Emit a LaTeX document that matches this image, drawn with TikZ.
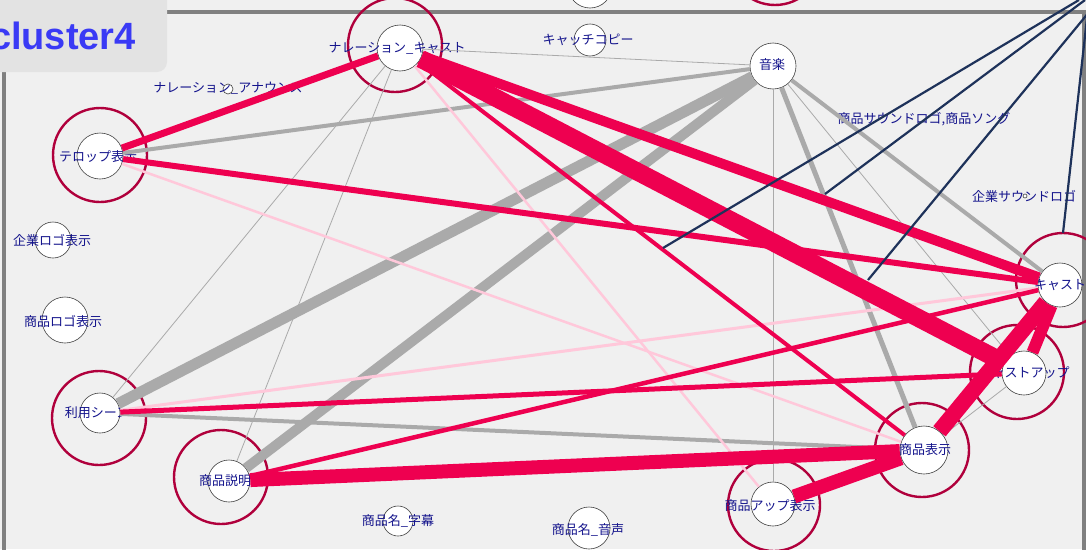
\documentclass[tikz,border=0pt]{standalone}
\usepackage{fontspec}
\newfontfamily\jp{Noto Sans CJK JP}
\newfontfamily\titlef{Liberation Sans}
\definecolor{bgc}{RGB}{240,240,240}
\definecolor{framec}{RGB}{128,128,128}
\definecolor{boxgray}{RGB}{227,227,227}
\definecolor{titlec}{RGB}{58,58,245}
\definecolor{ringred}{RGB}{176,0,60}
\definecolor{edgered}{RGB}{238,0,80}
\definecolor{edgepink}{RGB}{255,200,218}
\definecolor{edgegray}{RGB}{170,170,170}
\definecolor{navyc}{RGB}{30,50,90}
\definecolor{labblue}{RGB}{20,20,140}
\pgfdeclarelayer{back}
\pgfdeclarelayer{edges}
\pgfdeclarelayer{front}
\pgfsetlayers{back,main,edges,front}
\begin{document}
\begin{tikzpicture}[x=1pt,y=-1pt,
  circ/.style={circle, draw=black!75, fill=white, line width=0.6pt, inner sep=0pt},
  ring/.style={circle, draw=ringred, line width=2.4pt, inner sep=0pt, minimum size=94pt},
  lab/.style={text=labblue, font=\jp\fontsize{13}{14}\selectfont, inner sep=0pt},
  ge/.style={draw=edgegray},
  pe/.style={draw=edgepink},
  re/.style={draw=edgered},
  ne/.style={draw=navyc, line width=2.2pt}]
\useasboundingbox (0,0) rectangle (1086,549);
\begin{pgfonlayer}{back}
\fill[bgc] (0,0) rectangle (1086,549);
\draw[framec, line width=4pt] (4,12) rectangle (1084,640);
\end{pgfonlayer}

% rings
\node[ring] (r-top) at (775,-42) {};
\node[ring] (r-nacast) at (395,45) {};
\node[ring] (r-terop) at (100,155) {};
\node[ring] (r-riyou) at (99,418) {};
\node[ring] (r-setsumei) at (221,477) {};
\node[ring, minimum size=92pt] (r-upd) at (774,505) {};
\node[ring] (r-hyouji) at (922,450) {};
\node[ring] (r-castup) at (1017,372) {};
\node[ring] (r-cast) at (1063,280) {};

% circles
\node[circ, minimum size=44pt] (topc) at (590,-14) {};
\node[circ, minimum size=46pt] (nacast) at (400,48) {};
\node[circ, minimum size=32pt] (catch) at (590,40) {};
\node[circ, minimum size=46pt] (music) at (773,66) {};
\node[circ, minimum size=10pt] (naann) at (228,89) {};
\node[circ, minimum size=46pt] (terop) at (100,156) {};
\node[circ, minimum size=4pt] (ksl) at (1025,196) {};
\node[circ, minimum size=36pt] (klogo) at (53,240) {};
\node[circ, minimum size=46pt] (slogo) at (65,320) {};
\node[circ, minimum size=40pt] (riyou) at (100,413) {};
\node[circ, minimum size=42pt] (setsumei) at (229,481) {};
\node[circ, minimum size=30pt] (jimaku) at (398,521) {};
\node[circ, minimum size=42pt] (onsei) at (589,528) {};
\node[circ, minimum size=44pt] (upd) at (773,504) {};
\node[circ, minimum size=48pt] (hyouji) at (924,450) {};
\node[circ, minimum size=44pt] (castup) at (1024,373) {};
\node[circ, minimum size=44pt] (cast) at (1060,285) {};

% labels
\node[lab] (l-nacast) at (397,48) {ナレーション\_キャスト};
\node[lab] (l-catch) at (588,40) {キャッチコピー};
\node[lab] (l-music) at (772,65) {音楽};
\node[lab] (l-naann) at (228,88) {ナレーション\_アナウンス};
\node[lab] (l-terop) at (98,157) {テロップ表示};
\node[lab] (l-ssl) at (924,119) {商品サウンドロゴ,商品ソング};
\node[lab] (l-ksl) at (1024,196) {企業サウンドロゴ};
\node[lab] (l-klogo) at (52,240) {企業ロゴ表示};
\node[lab] (l-slogo) at (63,321) {商品ロゴ表示};
\node[lab] (l-riyou) at (97,413) {利用シーン};
\node[lab] (l-setsumei) at (225,481) {商品説明};
\node[lab] (l-jimaku) at (398,521) {商品名\_字幕};
\node[lab] (l-onsei) at (588,530) {商品名\_音声};
\node[lab] (l-upd) at (770,506) {商品アップ表示};
\node[lab] (l-hyouji) at (925,450) {商品表示};
\node[lab] (l-castup) at (1024,373) {キャストアップ};
\node[lab] (l-cast) at (1060,285) {キャスト};

% navy free ends
\coordinate (nA0) at (1079,0);  \coordinate (nA1) at (663,248);
\coordinate (nB0) at (1085,0);  \coordinate (nB1) at (825,194);
\coordinate (nC0) at (1099,0);  \coordinate (nC1) at (868,280);
\coordinate (nD0) at (1089,0);  \coordinate (nD1) at (1063,233);

\begin{pgfonlayer}{edges}
% gray
\draw[ge, line width=11pt] (music) -- (riyou);
\draw[ge, line width=10pt] (music) -- (setsumei);
\draw[ge, line width=4pt] (music) -- (terop);
\draw[ge, line width=5pt] (music) -- (hyouji);
\draw[ge, line width=4pt] (music) -- (cast);
\draw[ge, line width=0.8pt] (music) -- (castup);
\draw[ge, line width=0.8pt] (music) -- (upd);
\draw[ge, line width=0.8pt] (music) -- (nacast);
\draw[ge, line width=0.8pt] (nacast) -- (riyou);
\draw[ge, line width=0.8pt] (nacast) -- (setsumei);
\draw[ge, line width=4pt] (riyou) -- (hyouji);
\draw[ge, line width=0.8pt] (hyouji) -- (castup);
% pink
\draw[pe, line width=2.5pt] (nacast) -- (upd);
\draw[pe, line width=2.5pt] (terop) -- (hyouji);
\draw[pe, line width=3pt] (riyou) -- (cast);
% red
\draw[re, line width=7pt] (nacast) -- (terop);
\draw[re, line width=18pt] (nacast) -- (castup);
\draw[re, line width=10pt] (nacast) -- (cast);
\draw[re, line width=4pt] (nacast) -- (hyouji);
\draw[re, line width=6pt] (terop) -- (cast);
\draw[re, line width=5pt] (riyou) -- (castup);
\draw[re, line width=4.5pt] (setsumei) -- (cast);
\draw[re, line width=14pt] (setsumei) -- (hyouji);
\draw[re, line width=16pt] (hyouji) -- (cast);
\draw[re, line width=14pt] (upd) -- (hyouji);
\draw[re, line width=12pt] (castup) -- (cast);
% navy
\draw[ne] (nA0) -- (nA1);
\draw[ne] (nB0) -- (nB1);
\draw[ne] (nC0) -- (nC1);
\draw[ne] (nD0) -- (nD1);
\end{pgfonlayer}

\begin{pgfonlayer}{front}
\fill[boxgray, rounded corners=10pt] (-20,-20) rectangle (167,72);
\node[anchor=base east, text=titlec, font=\titlef\bfseries\fontsize{38}{40}\selectfont, inner sep=0pt] (title) at (136,49) {cluster4};
\end{pgfonlayer}
\end{tikzpicture}
\end{document}
